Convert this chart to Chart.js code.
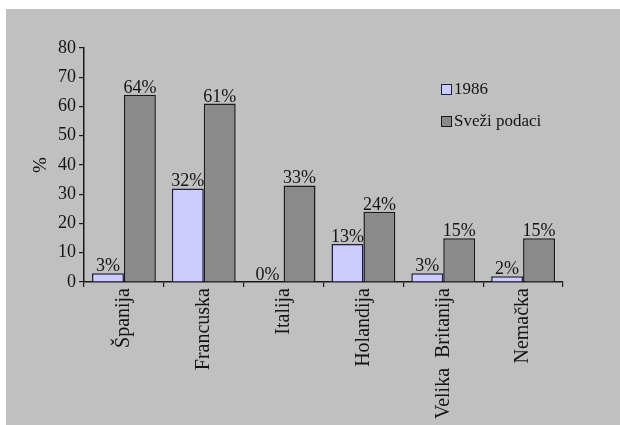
<!DOCTYPE html>
<html>
<head>
<meta charset="utf-8">
<script src="https://cdn.jsdelivr.net/npm/chart.js@4/dist/chart.umd.min.js"></script>
<style>
html,body{margin:0;padding:0;background:#fff;}
#wrap{position:relative;width:620px;height:425px;}
</style>
</head>
<body>
<div id="wrap"><canvas id="c" width="620" height="425"></canvas></div>
<script>
const categories = ["Španija", "Francuska", "Italija", "Holandija", "Velika  Britanija", "Nemačka"];
const series1986 = [3, 32, 0, 13, 3, 2];
const seriesRecent = [64, 61, 33, 24, 15, 15];
const seriesNames = ["1986", "Sveži podaci"];
const yTicks = [0, 10, 20, 30, 40, 50, 60, 70, 80];

const FONT = "'Liberation Serif', 'Times New Roman', serif";
const TEXT = "#141414";

const bgPlugin = {
  id: 'bg',
  beforeDraw(chart) {
    const ctx = chart.ctx;
    ctx.save();
    ctx.fillStyle = '#ffffff';
    ctx.fillRect(0, 0, chart.width, chart.height);
    ctx.fillStyle = '#c0c0c0';
    ctx.fillRect(6, 9, chart.width - 6, chart.height - 9);
    ctx.restore();
  }
};

const labelPlugin = {
  id: 'vals',
  afterDatasetsDraw(chart) {
    const ctx = chart.ctx;
    ctx.save();
    ctx.font = "18px " + FONT;
    ctx.fillStyle = TEXT;
    ctx.textAlign = 'center';
    ctx.textBaseline = 'alphabetic';
    chart.data.datasets.forEach((ds, i) => {
      const meta = chart.getDatasetMeta(i);
      meta.data.forEach((bar, j) => {
        ctx.fillText(ds.data[j] + '%', bar.x, bar.y - 2);
      });
    });
    ctx.restore();
  }
};

const legendPlugin = {
  id: 'customLegend',
  afterDraw(chart) {
    const ctx = chart.ctx;
    ctx.save();
    ctx.font = "17px " + FONT;
    ctx.textBaseline = 'middle';
    ctx.textAlign = 'left';
    const x0 = 441, ys = [89, 121];
    chart.data.datasets.forEach((ds, i) => {
      const y = ys[i];
      ctx.fillStyle = ds.backgroundColor;
      ctx.fillRect(x0, y - 5, 10, 10);
      ctx.strokeStyle = ds.borderColor;
      ctx.lineWidth = 1;
      ctx.strokeRect(x0 + 0.5, y - 4.5, 10, 10);
      ctx.fillStyle = TEXT;
      ctx.fillText(ds.label, x0 + 13, y + 1);
    });
    ctx.restore();
  }
};

new Chart(document.getElementById('c'), {
  type: 'bar',
  data: {
    labels: categories,
    datasets: [
      { label: seriesNames[0], data: series1986, backgroundColor: '#ccccff', borderColor: '#1c1c4a', borderWidth: 1.5 },
      { label: seriesNames[1], data: seriesRecent, backgroundColor: '#8a8a8a', borderColor: '#1a1a1a', borderWidth: 1.5 }
    ]
  },
  options: {
    responsive: false,
    animation: false,
    devicePixelRatio: 1,
    layout: { padding: { left: 26, right: 57, top: 48, bottom: 0 } },
    datasets: { bar: { categoryPercentage: 0.8, barPercentage: 1.0 } },
    plugins: { legend: { display: false }, tooltip: { enabled: false } },
    scales: {
      x: {
        grid: { display: true, drawOnChartArea: false, offset: true, tickLength: 5, color: '#1a1a1a', lineWidth: 1.2 },
        border: { display: true, color: '#1a1a1a', width: 1.5 },
        ticks: { minRotation: 90, maxRotation: 90, autoSkip: false, padding: 1, color: TEXT, font: { family: FONT, size: 20 } },
        afterFit(scale) { scale.height = 425 - 282; }
      },
      y: {
        min: 0, max: 80,
        afterBuildTicks(scale) { scale.ticks = yTicks.map(v => ({ value: v })); },
        grid: { display: true, drawOnChartArea: false, tickLength: 5, color: '#1a1a1a', lineWidth: 1.2 },
        border: { display: true, color: '#1a1a1a', width: 1.5 },
        ticks: { padding: 3, color: TEXT, font: { family: FONT, size: 18 } },
        title: { display: true, text: '%', color: TEXT, font: { family: FONT, size: 19 }, padding: { top: 4, bottom: 0 } },
        afterFit(scale) { scale.width = 84 - 26; }
      }
    }
  },
  plugins: [bgPlugin, labelPlugin, legendPlugin]
});
</script>
</body>
</html>
